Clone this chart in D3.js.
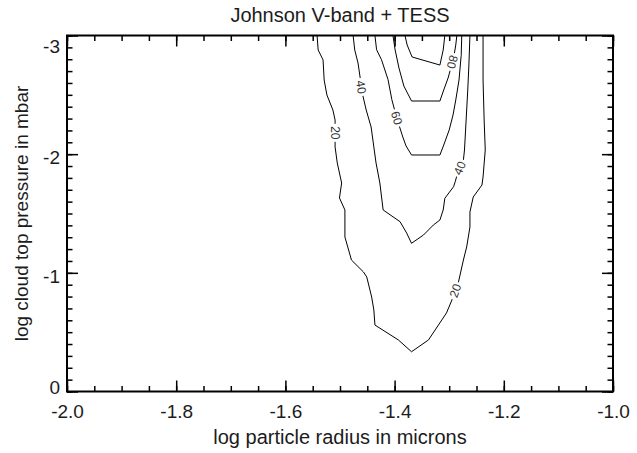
<!DOCTYPE html>
<html>
<head>
<meta charset="utf-8">
<script src="https://cdn.jsdelivr.net/npm/d3@7"></script>
<style>
  html, body { margin: 0; padding: 0; background: #fff; }
  svg { display: block; }
  text { font-family: "Liberation Sans", Arial, Helvetica, sans-serif; }
</style>
</head>
<body>
<div id="chart"></div>
<script>
// ---------------- data ----------------
const title = "Johnson V-band + TESS";
const xTitle = "log particle radius in microns";
const yTitle = "log cloud top pressure in mbar";

const xTicks = [-2.0, -1.8, -1.6, -1.4, -1.2, -1.0];
const xTickLabels = ["-2.0", "-1.8", "-1.6", "-1.4", "-1.2", "-1.0"];
const yTicks = [-3, -2, -1, 0];
const yTickLabels = ["-3", "-2", "-1", "0"];

const levels = [20, 40, 60, 80, 100];

// contour paths, [log radius, log pressure]
const contour20 = [
  [-1.542,-3.000],[-1.540,-2.878],[-1.531,-2.794],[-1.529,-2.625],[-1.524,-2.499],
  [-1.513,-2.372],[-1.509,-2.288],[-1.509,-2.060],[-1.505,-1.926],[-1.497,-1.757],
  [-1.501,-1.631],[-1.491,-1.530],[-1.491,-1.302],[-1.479,-1.108],[-1.457,-1.007],
  [-1.451,-0.965],[-1.442,-0.796],[-1.438,-0.687],[-1.436,-0.560],[-1.393,-0.434],
  [-1.369,-0.335],[-1.338,-0.434],[-1.305,-0.662],[-1.295,-0.771],[-1.283,-0.923],
  [-1.274,-1.108],[-1.268,-1.218],[-1.262,-1.386],[-1.262,-1.513],[-1.256,-1.639],
  [-1.240,-1.740],[-1.238,-1.808],[-1.234,-2.035],[-1.236,-2.288],[-1.238,-2.625],
  [-1.238,-3.000]
];
const contour40 = [
  [-1.476,-3.000],[-1.473,-2.878],[-1.467,-2.768],[-1.463,-2.642],[-1.458,-2.490],
  [-1.452,-2.372],[-1.443,-2.229],[-1.438,-2.060],[-1.434,-1.926],[-1.427,-1.757],
  [-1.421,-1.530],[-1.390,-1.431],[-1.378,-1.336],[-1.369,-1.249],[-1.347,-1.319],
  [-1.329,-1.403],[-1.317,-1.445],[-1.311,-1.530],[-1.308,-1.628],[-1.292,-1.726],
  [-1.289,-1.768],[-1.284,-1.850],[-1.274,-1.951],[-1.272,-2.035],[-1.269,-2.288],
  [-1.266,-2.541],[-1.264,-2.743],[-1.262,-3.000]
];
const contour60 = [
  [-1.436,-3.000],[-1.433,-2.880],[-1.424,-2.796],[-1.412,-2.628],[-1.405,-2.459],
  [-1.399,-2.355],[-1.392,-2.246],[-1.385,-2.145],[-1.379,-2.069],[-1.369,-1.993],
  [-1.317,-1.993],[-1.310,-2.077],[-1.300,-2.204],[-1.293,-2.330],[-1.288,-2.456],
  [-1.282,-2.625],[-1.278,-2.836],[-1.277,-3.000]
];
const contour80 = [
  [-1.286,-3.000],[-1.288,-2.920],[-1.291,-2.836],[-1.297,-2.726],[-1.302,-2.642],
  [-1.310,-2.541],[-1.317,-2.448],[-1.369,-2.448],[-1.383,-2.574],[-1.392,-2.726],
  [-1.399,-2.878],[-1.403,-3.000]
];
const contour100 = [
  [-1.381,-3.000],[-1.377,-2.920],[-1.368,-2.819],[-1.317,-2.751],[-1.311,-2.878],
  [-1.308,-3.000]
];
const contourPaths = [contour20, contour40, contour60, contour80, contour100];

// contour labels: level and location on its path
const labelLevels = [20, 20, 40, 40, 60, 80];
const labelAt = [
  [-1.509,-2.180],[-1.289,-0.850],[-1.461,-2.566],[-1.281,-1.883],[-1.396,-2.305],[-1.294,-2.777]
];

// ---------------- chart ----------------
(function () {
const W = 637, H = 453;
const mL = 67, mR = 613, mT = 35.5, mB = 391.5;
const ink = "#1c1c1c";

const svg = d3.select("#chart").append("svg").attr("width", W).attr("height", H);

const x = d3.scaleLinear().domain([-2, -1]).range([mL, mR]);
const y = d3.scaleLinear().domain([-3, 0]).range([mT, mB]);

const xMinor = d3.range(0, 21).map(i => -2 + i * 0.05);
const yMinor = d3.range(0, 31).map(i => -3 + i * 0.1);

function styleAxis(g) {
  g.select(".domain").remove();
  g.selectAll("line").attr("stroke", "#000").attr("stroke-width", 1.5);
  g.selectAll("text").attr("fill", ink).style("font-size", "19px")
    .style("font-family", '"Liberation Sans", Arial, sans-serif');
}

// contours
const line = d3.line().x(d => x(d[0])).y(d => y(d[1]));
const cg = svg.append("g");
contourPaths.forEach((pts) => {
  cg.append("path").attr("d", line(pts)).attr("fill", "none")
    .attr("stroke", "#000").attr("stroke-width", 1).attr("stroke-linejoin", "round");
});

// labels
labelLevels.forEach((lev, i) => {
  const pts = contourPaths[levels.indexOf(lev)];
  const px = x(labelAt[i][0]), py = y(labelAt[i][1]);
  let best = 0, bd = Infinity;
  for (let k = 0; k < pts.length - 1; k++) {
    const ax = x(pts[k][0]), ay = y(pts[k][1]), bx = x(pts[k+1][0]), by = y(pts[k+1][1]);
    const dx = bx - ax, dy = by - ay;
    let t = ((px - ax) * dx + (py - ay) * dy) / (dx * dx + dy * dy);
    t = Math.max(0, Math.min(1, t));
    const d = Math.hypot(ax + t * dx - px, ay + t * dy - py);
    if (d < bd) { bd = d; best = k; }
  }
  const a = pts[best], b = pts[best + 1];
  const ang = Math.atan2(y(b[1]) - y(a[1]), x(b[0]) - x(a[0])) * 180 / Math.PI;
  const g = cg.append("g").attr("transform", `translate(${px},${py}) rotate(${ang})`);
  g.append("rect").attr("x", -9).attr("y", -6).attr("width", 18).attr("height", 12).attr("fill", "#fff");
  g.append("text").attr("text-anchor", "middle").attr("dy", "0.36em")
    .attr("fill", "#333").style("font-size", "12px").text(lev);
});

// axes
svg.append("g").attr("transform", `translate(0,${mB})`)
  .call(d3.axisBottom(x).tickValues(xMinor).tickSize(-5.5).tickFormat("")).call(styleAxis);
svg.append("g").attr("transform", `translate(0,${mB})`)
  .call(d3.axisBottom(x).tickValues(xTicks).tickSize(-11).tickPadding(13)
    .tickFormat((d, i) => xTickLabels[i])).call(styleAxis);
svg.append("g").attr("transform", `translate(0,${mT})`)
  .call(d3.axisTop(x).tickValues(xMinor).tickSize(-5.5).tickFormat("")).call(styleAxis);
svg.append("g").attr("transform", `translate(0,${mT})`)
  .call(d3.axisTop(x).tickValues(xTicks).tickSize(-11).tickFormat("")).call(styleAxis);

svg.append("g").attr("transform", `translate(${mL},0)`)
  .call(d3.axisLeft(y).tickValues(yMinor).tickSize(-5.5).tickFormat("")).call(styleAxis);
const yl = svg.append("g").attr("transform", `translate(${mL},0)`)
  .call(d3.axisLeft(y).tickValues(yTicks).tickSize(-11).tickPadding(7)
    .tickFormat((d, i) => yTickLabels[i])).call(styleAxis);
const yShift = [10.5, 3, 3, -4.5];
yl.selectAll(".tick text").attr("dy", (d, i) => (0.35 * 19 + yShift[i]) + "px");
svg.append("g").attr("transform", `translate(${mR},0)`)
  .call(d3.axisRight(y).tickValues(yMinor).tickSize(-5.5).tickFormat("")).call(styleAxis);
svg.append("g").attr("transform", `translate(${mR},0)`)
  .call(d3.axisRight(y).tickValues(yTicks).tickSize(-11).tickFormat("")).call(styleAxis);

// frame
svg.append("rect").attr("x", mL).attr("y", mT).attr("width", mR - mL).attr("height", mB - mT)
  .attr("fill", "none").attr("stroke", "#000").attr("stroke-width", 2);

// titles
svg.append("text").attr("x", (mL + mR) / 2).attr("y", 22).attr("text-anchor", "middle")
  .attr("fill", ink).style("font-size", "20px").text(title);
svg.append("text").attr("x", (mL + mR) / 2).attr("y", 444).attr("text-anchor", "middle")
  .attr("fill", ink).style("font-size", "20px").text(xTitle);
svg.append("text").attr("transform", `translate(28,${(mT + mB) / 2}) rotate(-90)`)
  .attr("text-anchor", "middle").attr("fill", ink).style("font-size", "19px").text(yTitle);
})();
</script>
</body>
</html>
